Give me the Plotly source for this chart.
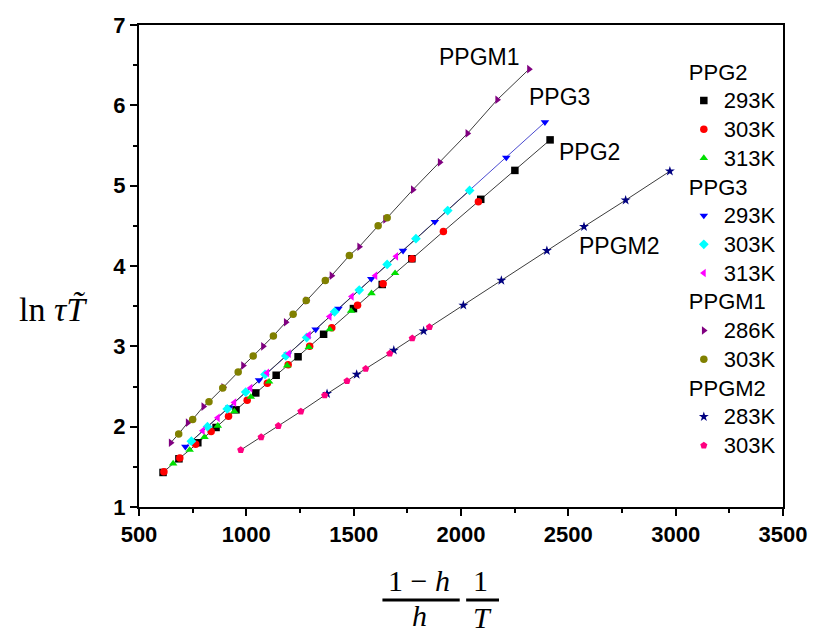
import plotly.graph_objects as go

FONT = "Arial, Liberation Sans, sans-serif"
SERIF = "Times New Roman, Liberation Serif, serif"
LINE = "#3c3c3c"

# PPG2
ppg2_293_x = [612, 686, 774, 859, 952, 1044, 1139, 1241, 1360, 1499, 1633, 1771, 2092, 2251, 2415]
ppg2_293_y = [1.43, 1.60, 1.80, 1.99, 2.21, 2.42, 2.64, 2.87, 3.15, 3.47, 3.77, 4.09, 4.83, 5.19, 5.57]
ppg2_303_x = [616, 690, 764, 836, 917, 1004, 1098, 1195, 1295, 1398, 1518, 1637, 1772, 1918, 2081]
ppg2_303_y = [1.44, 1.61, 1.78, 1.94, 2.13, 2.33, 2.54, 2.77, 3.00, 3.23, 3.51, 3.78, 4.09, 4.43, 4.80]
ppg2_313_x = [659, 736, 805, 867, 944, 1021, 1106, 1190, 1291, 1388, 1488, 1583, 1693]
ppg2_313_y = [1.54, 1.71, 1.87, 2.01, 2.19, 2.37, 2.56, 2.76, 2.99, 3.21, 3.44, 3.66, 3.91]

# PPG3
ppg3_293_x = [716, 921, 1059, 1193, 1323, 1429, 1582, 1730, 1878, 2211, 2391]
ppg3_293_y = [1.75, 2.24, 2.58, 2.90, 3.21, 3.47, 3.84, 4.19, 4.55, 5.35, 5.79]
ppg3_303_x = [744, 819, 911, 997, 1087, 1184, 1281, 1411, 1526, 1656, 1790, 1938, 2040]
ppg3_303_y = [1.82, 2.00, 2.22, 2.43, 2.65, 2.88, 3.11, 3.43, 3.70, 4.02, 4.34, 4.69, 4.94]
ppg3_313_x = [797, 867, 944, 1019, 1097, 1198, 1291, 1388, 1491, 1601, 1698]
ppg3_313_y = [1.95, 2.11, 2.30, 2.48, 2.67, 2.91, 3.14, 3.37, 3.62, 3.88, 4.12]

# PPGM1
ppgm1_286_x = [648, 727, 800, 893, 985, 1078, 1184, 1281, 1397, 1526, 1647, 1776, 1901, 2030, 2169, 2317]
ppgm1_286_y = [1.80, 2.05, 2.25, 2.49, 2.76, 3.00, 3.30, 3.57, 3.88, 4.24, 4.58, 4.95, 5.29, 5.65, 6.07, 6.45]
ppgm1_303_x = [685, 750, 826, 890, 962, 1032, 1126, 1218, 1279, 1368, 1480, 1614, 1656]
ppgm1_303_y = [1.91, 2.09, 2.31, 2.48, 2.68, 2.88, 3.13, 3.40, 3.57, 3.82, 4.13, 4.50, 4.60]

# PPGM2
ppgm2_283_x = [1376, 1514, 1687, 1826, 2011, 2188, 2400, 2573, 2767, 2973]
ppgm2_283_y = [2.41, 2.65, 2.95, 3.19, 3.51, 3.82, 4.19, 4.49, 4.82, 5.18]
ppgm2_303_x = [974, 1069, 1149, 1254, 1365, 1469, 1556, 1668, 1773, 1853]
ppgm2_303_y = [1.71, 1.87, 2.01, 2.19, 2.39, 2.57, 2.72, 2.91, 3.10, 3.24]

GROUPS = ["PPG2", "PPG3", "PPGM1", "PPGM2"]
SERIES = [
    ("PPG2", "293K", ppg2_293_x, ppg2_293_y, "square", "#000000"),
    ("PPG2", "303K", ppg2_303_x, ppg2_303_y, "circle", "#ff0000"),
    ("PPG2", "313K", ppg2_313_x, ppg2_313_y, "triangle-up", "#00e000"),
    ("PPG3", "293K", ppg3_293_x, ppg3_293_y, "triangle-down", "#0000ff"),
    ("PPG3", "303K", ppg3_303_x, ppg3_303_y, "diamond", "#00ffff"),
    ("PPG3", "313K", ppg3_313_x, ppg3_313_y, "triangle-left", "#ff00ff"),
    ("PPGM1", "286K", ppgm1_286_x, ppgm1_286_y, "triangle-right", "#800080"),
    ("PPGM1", "303K", ppgm1_303_x, ppgm1_303_y, "circle", "#808000"),
    ("PPGM2", "283K", ppgm2_283_x, ppgm2_283_y, "star", "#000080"),
    ("PPGM2", "303K", ppgm2_303_x, ppgm2_303_y, "pentagon", "#ff0080"),
]

LABELS = ["PPGM1", "PPG3", "PPG2", "PPGM2"]
LABEL_X = [2086, 2460, 2599, 2738]
LABEL_Y = [6.60, 6.11, 5.42, 4.25]

fig = go.Figure()

# fitted lines, one per group, through the group's points
for g in GROUPS:
    pts = []
    for grp, temp, xs, ys, sym, col in SERIES:
        if grp == g:
            pts += list(zip(xs, ys))
    pts.sort()
    if g == "PPG3":
        # the 293K fit runs on past the others in blue
        fig.add_trace(go.Scatter(x=ppg3_293_x, y=ppg3_293_y, mode="lines",
                                 line=dict(color="#4a4ad0", width=1), showlegend=False,
                                 hoverinfo="skip"))
        pts = sorted(list(zip(ppg3_303_x, ppg3_303_y)) + list(zip(ppg3_313_x, ppg3_313_y)))
    fig.add_trace(go.Scatter(x=[p[0] for p in pts], y=[p[1] for p in pts], mode="lines",
                             line=dict(color=LINE, width=1), showlegend=False,
                             hoverinfo="skip"))

for grp, temp, xs, ys, sym, col in SERIES:
    fig.add_trace(go.Scatter(
        x=xs, y=ys, mode="markers", name="<span style='font-size:22px'>%s</span>" % temp,
        legendgroup=grp,
        legendgrouptitle=dict(text="<span style='font-size:22px'>%s</span>" % grp,
                              font=dict(family=FONT, size=19.8, color="black")),
        marker=dict(symbol=sym, color=col, size=7.5, line=dict(width=0)),
    ))

for t, x, y in zip(LABELS, LABEL_X, LABEL_Y):
    fig.add_annotation(x=x, y=y, text=t, showarrow=False,
                       font=dict(family=FONT, size=23, color="black"))

# y label
fig.add_annotation(xref="paper", yref="paper", x=-0.133, y=0.41, xanchor="center",
                   yanchor="middle", text="ln <i>τ</i><i>T\u0303</i>",
                   showarrow=False, font=dict(family=SERIF, size=34, color="black"))

# x label: (1-h)/h * 1/T
frac = dict(xref="paper", yref="paper", xanchor="center", yanchor="middle", showarrow=False,
            font=dict(family=SERIF, size=30, color="black"))
fig.add_annotation(x=0.435, y=-0.153, text="1 − <i>h</i>", **frac)
fig.add_annotation(x=0.435, y=-0.226, text="<i>h</i>", **frac)
fig.add_annotation(x=0.531, y=-0.153, text="1", **frac)
fig.add_annotation(x=0.534, y=-0.229, text="<i>T</i>", **frac)
fig.add_shape(type="line", xref="paper", yref="paper", x0=0.378, x1=0.498, y0=-0.193, y1=-0.193,
              line=dict(color="black", width=3))
fig.add_shape(type="line", xref="paper", yref="paper", x0=0.508, x1=0.559, y0=-0.193, y1=-0.193,
              line=dict(color="black", width=3))

axis_common = dict(
    showgrid=False, zeroline=False, showline=True, linecolor="black", linewidth=2,
    mirror=True, ticks="outside", ticklen=7, tickwidth=2, tickcolor="black",
    tickfont=dict(family=FONT, size=22, color="black", weight="bold"),
)
fig.update_xaxes(range=[500, 3500], dtick=500, tick0=500,
                 minor=dict(dtick=250, ticks="outside", ticklen=4, tickwidth=2, tickcolor="black"),
                 **axis_common)
fig.update_yaxes(range=[1, 7], dtick=1,
                 minor=dict(dtick=0.5, ticks="outside", ticklen=4, tickwidth=2, tickcolor="black"),
                 **axis_common)

fig.update_layout(
    width=819, height=637,
    margin=dict(l=139, r=32, t=25, b=130),
    plot_bgcolor="white", paper_bgcolor="white",
    font=dict(family=FONT, color="black"),
    legend=dict(x=0.846, y=0.943, xanchor="left", yanchor="top",
                font=dict(family=FONT, size=19.8, color="black"),
                tracegroupgap=0, bgcolor="rgba(0,0,0,0)", traceorder="grouped"),
)

# drop the page's default body margin so the figure fills the window
fig.write_html("out.html", config={"displayModeBar": False},
               post_script="document.body.style.margin='0px';")
